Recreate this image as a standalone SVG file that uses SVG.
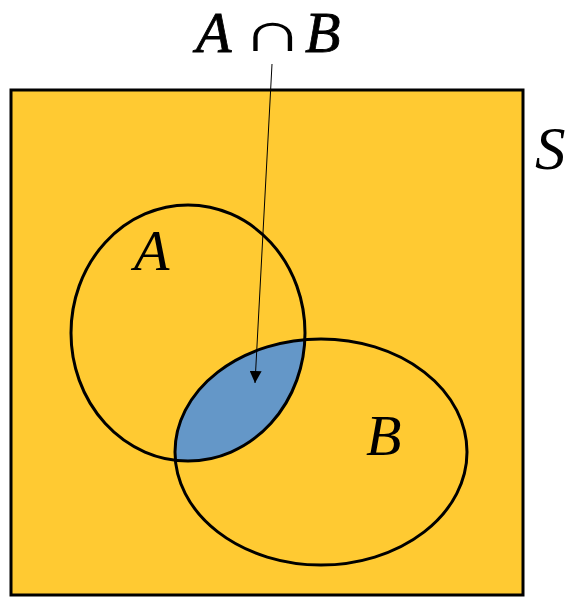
<svg xmlns="http://www.w3.org/2000/svg" width="570" height="597" viewBox="0 0 570 597">
<style>
.lbl{font-family:"Liberation Serif","Times New Roman",serif;font-style:italic;fill:#000}
.bold{stroke:#000;stroke-width:0.8}
.set{fill:none;stroke:#000;stroke-width:3}
</style>
<defs>
<clipPath id="clipA"><ellipse cx="188" cy="333" rx="117" ry="128"/></clipPath>
<marker id="arr" viewBox="0 0 10 10" refX="10" refY="5" markerWidth="12" markerHeight="12" markerUnits="userSpaceOnUse" orient="auto"><path d="M0,0 L10,5 L0,10 z" fill="#000"/></marker>
</defs>
<rect width="570" height="597" fill="#fff"/>
<g id="S">
<rect x="11" y="90" width="512" height="505" fill="#FFCA32" stroke="#000" stroke-width="3"/>
<text class="lbl" x="535" y="169" font-size="61">S</text>
</g>
<g id="intersection">
<ellipse cx="321" cy="452" rx="146" ry="113" fill="#6497C8" clip-path="url(#clipA)"/>
</g>
<g id="A">
<ellipse class="set" cx="188" cy="333" rx="117" ry="128"/>
<text class="lbl" x="134" y="270" font-size="58">A</text>
</g>
<g id="B">
<ellipse class="set" cx="321" cy="452" rx="146" ry="113"/>
<text class="lbl" x="366" y="455" font-size="58">B</text>
</g>
<g id="title">
<text class="lbl bold" x="196" y="52" font-size="58">A</text>
<text font-family="'Liberation Serif',serif" font-size="56" transform="translate(241,51) scale(1.55,1)" x="0" y="0">∩</text>
<text class="lbl bold" x="305" y="52" font-size="58">B</text>
</g>
<g id="connectors">
<line x1="272" y1="64" x2="255" y2="383" stroke="#000" stroke-width="1" marker-end="url(#arr)"/>
</g>
</svg>
